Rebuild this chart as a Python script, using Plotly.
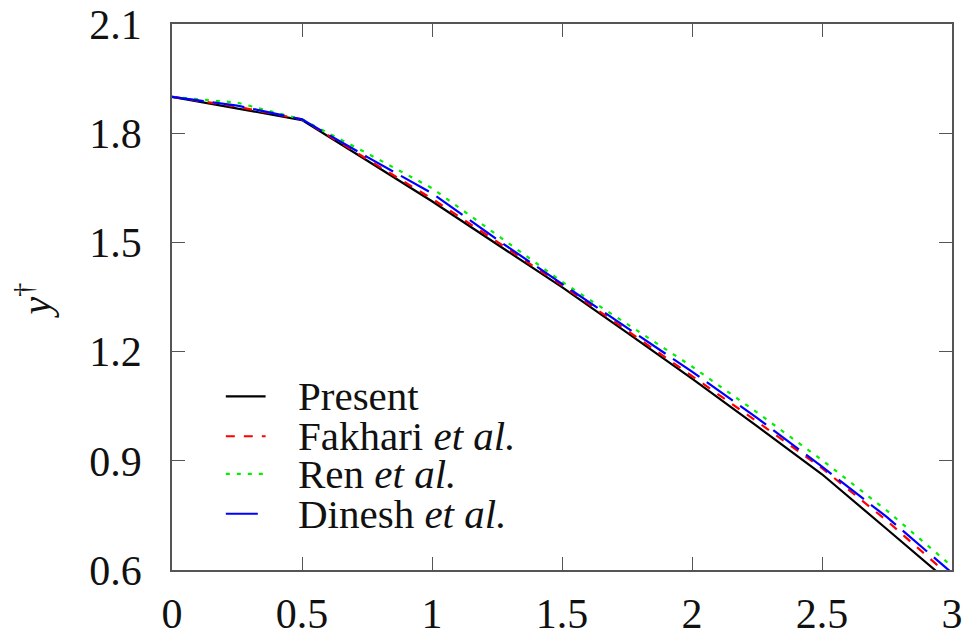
import plotly.graph_objects as go

x_vals = [0.0, 0.25, 0.5, 0.75, 1.0, 1.25, 1.5, 1.75, 2.0, 2.25, 2.5, 2.75, 3.0]
present = [1.900, 1.868, 1.836, 1.725, 1.613, 1.495, 1.377, 1.252, 1.126, 0.995, 0.863, 0.712, 0.560]
fakhari = [1.900, 1.873, 1.838, 1.730, 1.620, 1.502, 1.382, 1.258, 1.133, 1.008, 0.880, 0.735, 0.578]
ren = [1.900, 1.884, 1.838, 1.745, 1.649, 1.520, 1.392, 1.276, 1.159, 1.033, 0.902, 0.763, 0.610]
dinesh = [1.900, 1.876, 1.838, 1.735, 1.635, 1.508, 1.386, 1.266, 1.145, 1.018, 0.884, 0.745, 0.592]

x_ticks = [0, 0.5, 1, 1.5, 2, 2.5, 3]
x_tick_labels = ["0", "0.5", "1", "1.5", "2", "2.5", "3"]
y_ticks = [0.6, 0.9, 1.2, 1.5, 1.8, 2.1]
y_tick_labels = ["0.6", "0.9", "1.2", "1.5", "1.8", "2.1"]

series = [
    ("Present", present, "#000000", "solid"),
    ("Fakhari <i>et al.</i>", fakhari, "#ff0000", "9px,9px"),
    ("Ren <i>et al.</i>", ren, "#00ee00", "4px,7px"),
    ("Dinesh <i>et al.</i>", dinesh, "#0000ff", "32px,9px"),
]

FONT = "Liberation Serif"

fig = go.Figure()
for name, ys, color, dash in series:
    fig.add_trace(go.Scatter(x=x_vals, y=ys, mode="lines", name=name,
                             line=dict(color=color, width=2.2, dash=dash),
                             showlegend=False))

# manual legend (compact row spacing as in reference)
legend_rows = [0.318, 0.245, 0.176, 0.103]
for (name, ys, color, dash), ry in zip(series, legend_rows):
    fig.add_shape(type="line", xref="paper", yref="paper",
                  x0=0.069, x1=0.120, y0=ry, y1=ry,
                  line=dict(color=color, width=2.2, dash=dash))
    fig.add_annotation(xref="paper", yref="paper", x=0.159, y=ry,
                       xanchor="left", yanchor="middle", text=name,
                       showarrow=False, font=dict(family=FONT, size=41, color="#111"))

fig.add_annotation(xref="paper", yref="paper", x=-0.178, y=0.494,
                   xanchor="center", yanchor="middle",
                   text="<i>y</i><sup>†</sup>", textangle=-90, showarrow=False,
                   font=dict(family=FONT, size=40, color="#111"))

axis_common = dict(showgrid=False, zeroline=False, showline=True, mirror="ticks",
                   linecolor="#555", linewidth=1.5, ticks="inside", ticklen=13,
                   tickwidth=1.3, tickcolor="#555", automargin=False,
                   tickfont=dict(family=FONT, size=42, color="#111"))

fig.update_xaxes(range=[0, 3], tickvals=x_ticks, ticktext=x_tick_labels,
                 ticklabelstandoff=6, **axis_common)
fig.update_yaxes(range=[0.6, 2.1], tickvals=y_ticks, ticktext=y_tick_labels,
                 ticklabelstandoff=20, **axis_common)

fig.update_layout(width=977, height=637, plot_bgcolor="white", paper_bgcolor="white",
                  margin=dict(l=172, r=25, t=24, b=67), showlegend=False)

fig.write_html("out.html")
